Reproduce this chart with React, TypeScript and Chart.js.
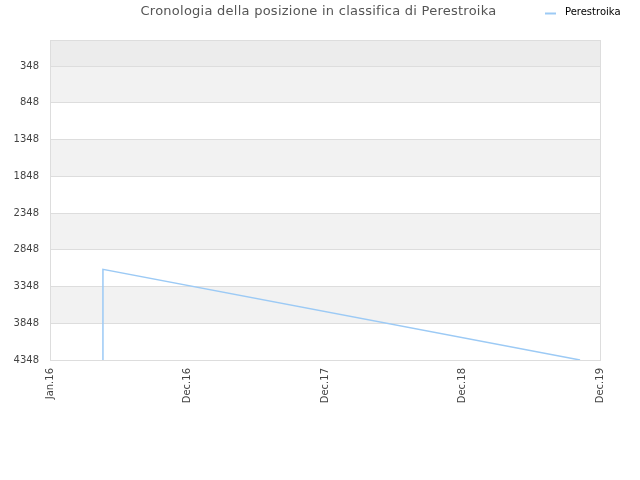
import React, { useEffect, useRef } from "react";
import { Chart, registerables } from "chart.js";

Chart.register(...registerables);

const TITLE = "Cronologia della posizione in classifica di Perestroika";
const SERIES_NAME = "Perestroika";
const X_TICK_LABELS = ["Jan.16", "Dec.16", "Dec.17", "Dec.18", "Dec.19"];
const Y_TICKS = [348, 848, 1348, 1848, 2348, 2848, 3348, 3848, 4348];
const POINT_X = [0.385, 0.385, 3.855];
const POINT_Y = [4348, 3115, 4348];

const LINE_COLOR = "#9ccaf5";

const bandsPlugin = {
  id: "bands",
  beforeDraw(chart: any) {
    const { ctx, chartArea } = chart;
    const y = chart.scales.y;
    ctx.save();
    const firstPx = y.getPixelForValue(Y_TICKS[0]);
    ctx.fillStyle = "#ececec";
    ctx.fillRect(chartArea.left, chartArea.top, chartArea.right - chartArea.left, firstPx - chartArea.top);
    for (let i = 0; i < Y_TICKS.length - 1; i++) {
      if (i % 2 === 0) {
        const a = y.getPixelForValue(Y_TICKS[i]);
        const b = y.getPixelForValue(Y_TICKS[i + 1]);
        ctx.fillStyle = "#f2f2f2";
        ctx.fillRect(chartArea.left, a, chartArea.right - chartArea.left, b - a);
      }
    }
    ctx.restore();
  },
  afterDraw(chart: any) {
    const { ctx, chartArea } = chart;
    ctx.save();
    ctx.strokeStyle = "#dddddd";
    ctx.lineWidth = 1;
    ctx.strokeRect(chartArea.left + 0.5, chartArea.top + 0.5, chartArea.right - chartArea.left, chartArea.bottom - chartArea.top);
    // title
    ctx.fillStyle = "#555555";
    ctx.font = "13px 'DejaVu Sans'";
    (ctx as any).letterSpacing = "0.25px";
    ctx.textAlign = "center";
    ctx.textBaseline = "middle";
    ctx.fillText(TITLE, 318.5, 12);
    (ctx as any).letterSpacing = "0px";
    // legend
    ctx.strokeStyle = LINE_COLOR;
    ctx.lineWidth = 2;
    ctx.beginPath();
    ctx.moveTo(545, 13.5);
    ctx.lineTo(556, 13.5);
    ctx.stroke();
    ctx.fillStyle = "#000000";
    ctx.font = "10px 'DejaVu Sans'";
    ctx.textAlign = "left";
    ctx.fillText(SERIES_NAME, 565, 12.5);
    ctx.restore();
  },
};

export default function App() {
  const ref = useRef<HTMLCanvasElement>(null);
  useEffect(() => {
    document.body.style.margin = "0";
    const data = POINT_X.map((x, i) => ({ x, y: POINT_Y[i] }));
    const chart = new Chart(ref.current!, {
      type: "line",
      data: {
        datasets: [
          {
            label: SERIES_NAME,
            data,
            borderColor: LINE_COLOR,
            backgroundColor: LINE_COLOR,
            borderWidth: 1.5,
            pointRadius: 0,
            tension: 0,
          },
        ],
      },
      options: {
        animation: false,
        responsive: false,
        devicePixelRatio: 1,
        layout: { padding: { top: 40, right: 40, left: 0, bottom: 0 } },
        plugins: {
          legend: { display: false },
          title: { display: false },
          tooltip: { enabled: false },
        },
        scales: {
          x: {
            type: "linear",
            min: 0,
            max: 4,
            afterBuildTicks: (s: any) => {
              s.ticks = X_TICK_LABELS.map((_, i) => ({ value: i }));
            },
            afterFit: (s: any) => {
              s.height = 120;
            },
            grid: { display: false, drawTicks: false },
            border: { display: false },
            ticks: {
              autoSkip: false,
              minRotation: 90,
              maxRotation: 90,
              padding: 8,
              color: "#444444",
              font: { family: "DejaVu Sans", size: 10 },
              callback: (v: any) => X_TICK_LABELS[Math.round(v)] ?? "",
            },
          },
          y: {
            type: "linear",
            reverse: true,
            min: -6,
            max: 4348,
            afterBuildTicks: (s: any) => {
              s.ticks = Y_TICKS.map((v) => ({ value: v }));
            },
            afterFit: (s: any) => {
              s.width = 50;
            },
            grid: { color: "#dddddd", drawTicks: false },
            border: { display: false },
            ticks: {
              padding: 11,
              color: "#444444",
              font: { family: "DejaVu Sans", size: 10 },
              callback: (v: any) => String(v),
            },
          },
        },
      },
      plugins: [bandsPlugin],
    });
    return () => chart.destroy();
  }, []);
  return <canvas ref={ref} width={640} height={480} style={{ display: "block" }} />;
}
